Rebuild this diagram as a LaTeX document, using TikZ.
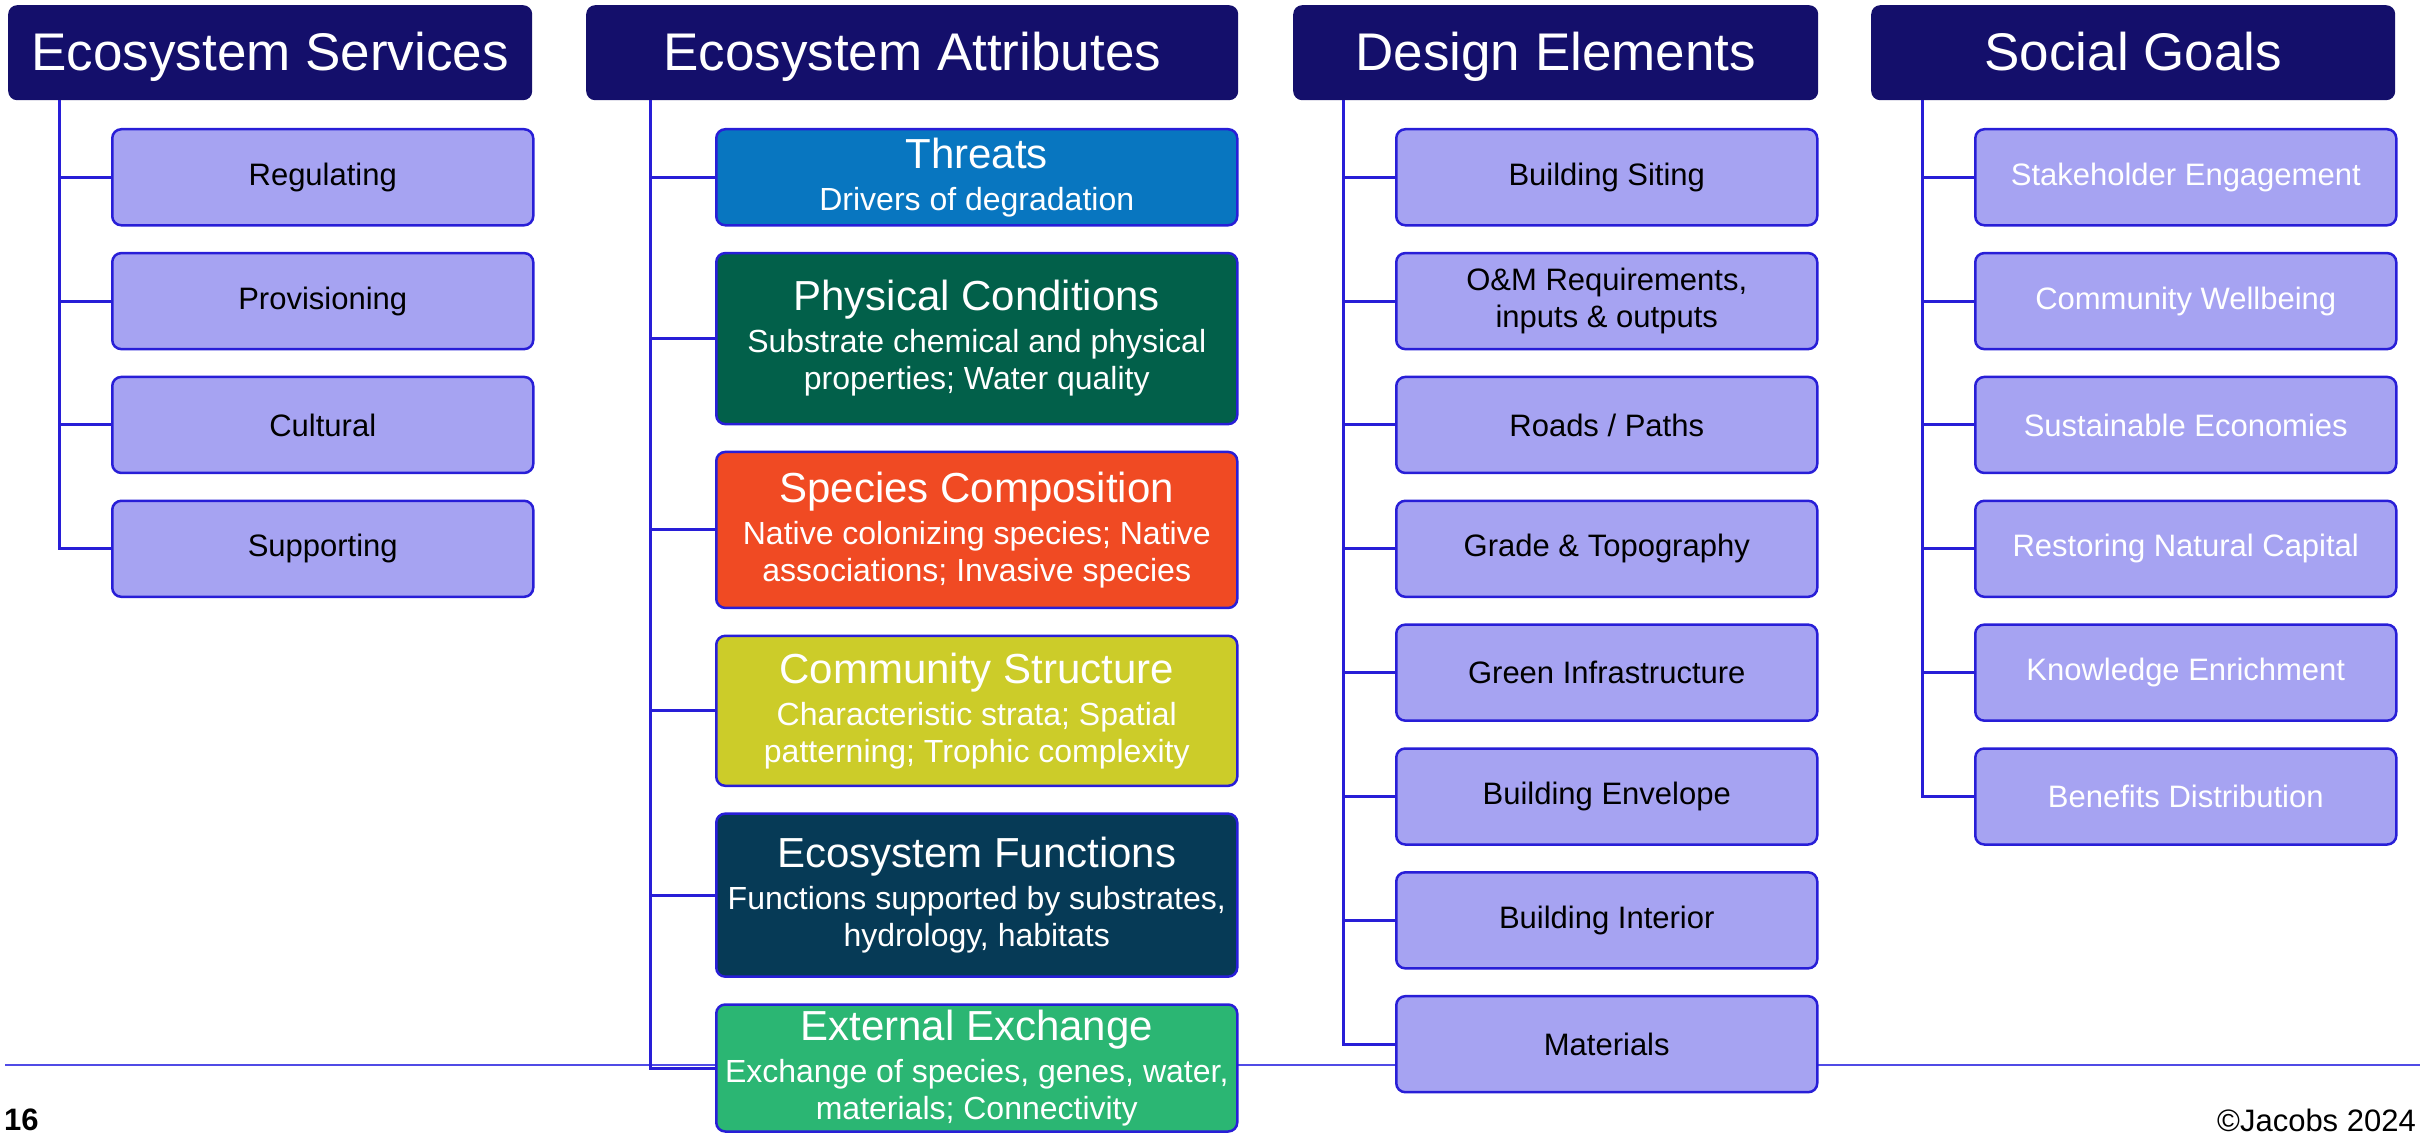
\documentclass[tikz,border=0pt]{standalone}
\usepackage{fontspec}
\setmainfont{Liberation Sans}
\usepackage{tikz}
\usetikzlibrary{positioning}
\definecolor{mynavy}{RGB}{20,15,107}
\definecolor{myblue}{RGB}{40,30,215}
\definecolor{mylavender}{RGB}{166,163,242}
\definecolor{myrule}{RGB}{80,75,230}
\definecolor{mythreat}{RGB}{8,118,192}
\definecolor{myphys}{RGB}{2,96,74}
\definecolor{myspecies}{RGB}{240,74,35}
\definecolor{mycommunity}{RGB}{204,204,41}
\definecolor{myfunction}{RGB}{6,58,86}
\definecolor{myexchange}{RGB}{43,182,115}
\newcommand{\mytitle}[1]{{\fontsize{42}{48}\selectfont #1}\\[5pt]}

\begin{document}
\begin{tikzpicture}[
  x=1pt,
  y=-1pt,
  node distance=25.35pt,
  myhead/.style={
    fill=mynavy,
    rounded corners=9pt,
    minimum height=95pt,
    text height=46pt,
    text depth=11pt,
    anchor=north west,
    text=white,
    font=\fontsize{53}{60}\selectfont
  },
  myrect/.style={
    draw=myblue,
    line width=2.5pt,
    fill=mylavender,
    rounded corners=9pt,
    minimum width=421pt,
    minimum height=96pt,
    align=center,
    font=\fontsize{31}{37}\selectfont
  },
  myattr/.style={
    myrect,
    minimum width=521pt,
    text=white,
    font=\fontsize{32}{37}\selectfont
  },
  mytrunk/.style={
    draw=myblue,
    line width=3pt
  },
  myfoot/.style={
    inner sep=0pt,
    font=\fontsize{31}{37}\selectfont
  }
]
\useasboundingbox (0,0) rectangle (2420,1137);
\draw [myrule, line width=2pt] (5,1065) -- (2420,1065);

\node [myhead, minimum width=524pt] (es) at (8,5) {Ecosystem Services};
\node [myhead, minimum width=652pt] (ea) at (586,5) {Ecosystem Attributes};
\node [myhead, minimum width=525pt] (de) at (1293,5) {Design Elements};
\node [myhead, minimum width=524pt] (sg) at (1871,5) {Social Goals};

\node [myrect, anchor=north west] (reg) at (111,128) {Regulating};
\node [myrect, below=of reg] (prov) {Provisioning};
\node [myrect, below=of prov] (cult) {Cultural};
\node [myrect, below=of cult] (supp) {Supporting};

\node [myattr, fill=mythreat, anchor=north west] (thr) at (715,128)
  {\mytitle{Threats}Drivers of degradation};
\node [myattr, fill=myphys, minimum height=171pt, below=of thr] (phys)
  {\mytitle{Physical Conditions}Substrate chemical and physical\\properties; Water quality};
\node [myattr, fill=myspecies, minimum height=156pt, below=of phys] (spec)
  {\mytitle{Species Composition}Native colonizing species; Native\\associations; Invasive species};
\node [myattr, fill=mycommunity, minimum height=150pt, below=of spec] (comm)
  {\mytitle{Community Structure}Characteristic strata; Spatial\\patterning; Trophic complexity};
\node [myattr, fill=myfunction, minimum height=163pt, below=of comm] (func)
  {\mytitle{Ecosystem Functions}Functions supported by substrates,\\hydrology, habitats};
\node [myattr, fill=myexchange, minimum height=127pt, below=of func] (exch)
  {\mytitle{External Exchange}Exchange of species, genes, water,\\materials; Connectivity};

\node [myrect, anchor=north west] (site) at (1395,128) {Building Siting};
\node [myrect, below=of site] (om) {O\&M Requirements,\\inputs \& outputs};
\node [myrect, below=of om] (road) {Roads / Paths};
\node [myrect, below=of road] (grade) {Grade \& Topography};
\node [myrect, below=of grade] (green) {Green Infrastructure};
\node [myrect, below=of green] (env) {Building Envelope};
\node [myrect, below=of env] (inter) {Building Interior};
\node [myrect, below=of inter] (mat) {Materials};

\node [myrect, text=white, anchor=north west] (stake) at (1974,128) {Stakeholder Engagement};
\node [myrect, text=white, below=of stake] (well) {Community Wellbeing};
\node [myrect, text=white, below=of well] (econ) {Sustainable Economies};
\node [myrect, text=white, below=of econ] (nat) {Restoring Natural Capital};
\node [myrect, text=white, below=of nat] (know) {Knowledge Enrichment};
\node [myrect, text=white, below=of know] (ben) {Benefits Distribution};

\foreach \c in {reg,prov,cult,supp}
  \draw [mytrunk] ([xshift=51pt]es.south west) |- (\c.west);
\foreach \c in {thr,phys,spec,comm,func,exch}
  \draw [mytrunk] ([xshift=64pt]ea.south west) |- (\c.west);
\foreach \c in {site,om,road,grade,green,env,inter,mat}
  \draw [mytrunk] ([xshift=50pt]de.south west) |- (\c.west);
\foreach \c in {stake,well,econ,nat,know,ben}
  \draw [mytrunk] ([xshift=51pt]sg.south west) |- (\c.west);

\node [myfoot, font=\fontsize{31}{37}\selectfont\bfseries, anchor=west] (page) at (4,1120) {16};
\node [myfoot, anchor=east] (copy) at (2416,1120) {©Jacobs 2024};
\end{tikzpicture}
\end{document}
